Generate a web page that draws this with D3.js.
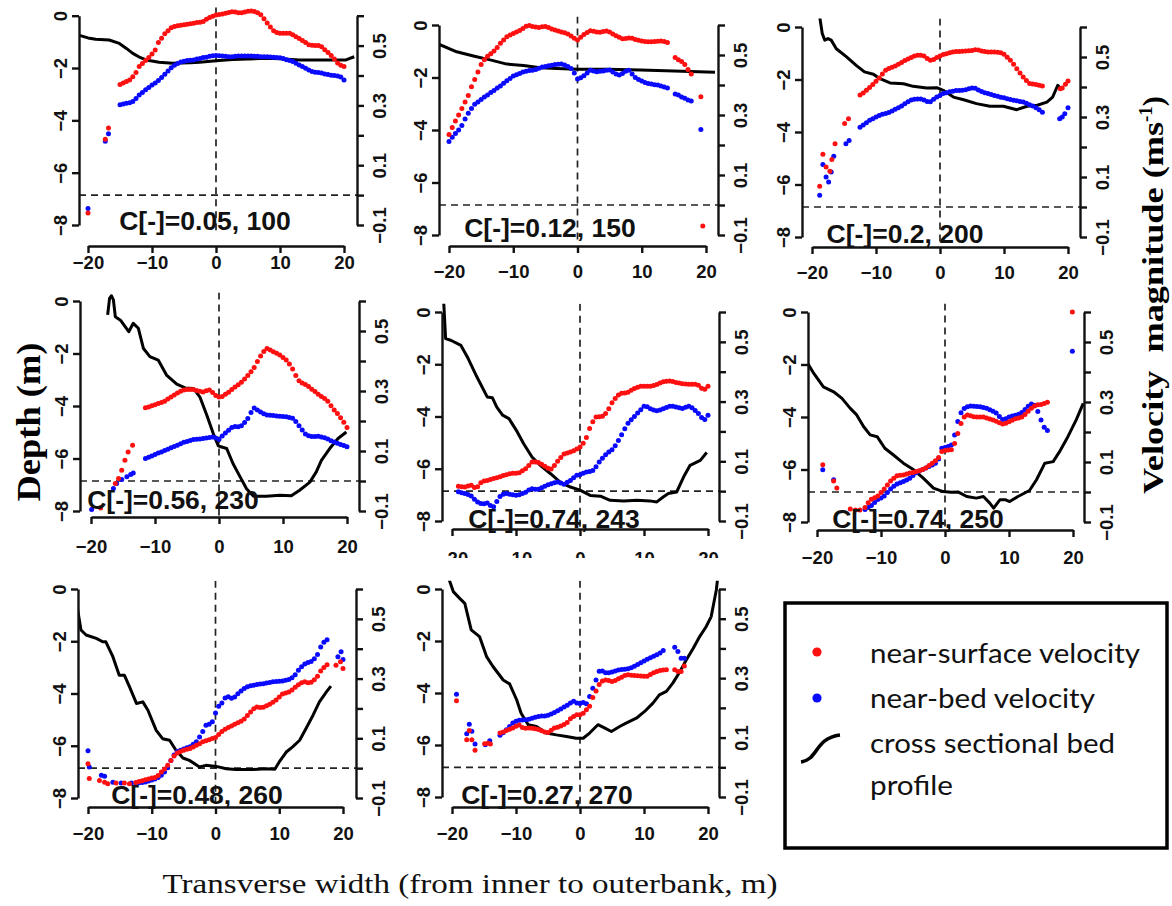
<!DOCTYPE html>
<html>
<head>
<meta charset="utf-8">
<script src="https://cdn.jsdelivr.net/npm/d3@7"></script>
<style>
  html, body { margin: 0; padding: 0; background: #fff; }
  svg { display: block; }
</style>
</head>
<body>
<svg id="chart" width="1172" height="906"></svg>
<script>
// dots are sampled every 0.5 m across the section; [startX, [values...]]
const STEP = 0.5;

const panelTags = ["C[-]=0.05, 100", "C[-]=0.12, 150", "C[-]=0.2, 200", "C[-]=0.56, 230",
                   "C[-]=0.74, 243", "C[-]=0.74, 250", "C[-]=0.48, 260", "C[-]=0.27, 270"];
const depthTicks = [0, -2, -4, -6, -8];
const velTicks = [-0.1, 0, 0.1, 0.2, 0.3, 0.4, 0.5, 0.6];
const velLabels = [-0.1, 0.1, 0.3, 0.5];
const widthTicks = [-20, -10, 0, 10, 20];
const legendLabels = ["near-surface velocity", "near-bed velocity", "cross sectional bed", "profile"];

// panel 1 : C=0.05, 100
const p1Surface = [[-20, [-0.06]], [-17.3, [0.187]], [-16.8, [0.224]],
  [-15, [0.37,0.375,0.38,0.385,0.396,0.41,0.43,0.44,0.45,0.46,
         0.472,0.485,0.51,0.525,0.54,0.55,0.56,0.564,0.566,0.568,
         0.57,0.571,0.573,0.575,0.577,0.578,0.581,0.588,0.594,0.598,
         0.602,0.604,0.606,0.608,0.611,0.613,0.612,0.61,0.61,0.612,
         0.615,0.616,0.614,0.61,0.603,0.59,0.576,0.562,0.55,0.544,
         0.541,0.541,0.541,0.541,0.536,0.53,0.524,0.517,0.51,0.503,
         0.501,0.5,0.5,0.496,0.486,0.477,0.467,0.455,0.442,0.434,0.43]]];
const p1Bed = [[-20, [-0.045]], [-17.3, [0.18]], [-16.8, [0.205]],
  [-15, [0.302,0.305,0.307,0.309,0.313,0.323,0.335,0.343,0.352,0.36,
         0.368,0.375,0.383,0.393,0.404,0.415,0.426,0.434,0.44,0.445,
         0.448,0.45,0.451,0.452,0.455,0.457,0.46,0.461,0.464,0.466,
         0.467,0.466,0.465,0.464,0.463,0.463,0.464,0.465,0.465,0.465,
         0.465,0.465,0.464,0.464,0.463,0.463,0.463,0.462,0.461,0.46,
         0.459,0.457,0.453,0.45,0.447,0.441,0.435,0.43,0.424,0.418,
         0.413,0.411,0.41,0.408,0.405,0.403,0.401,0.4,0.398,0.395,0.385]]];
const p1Profile = [[-21.5,-0.74],[-20,-0.85],[-18.8,-0.9],[-16.7,-0.93],[-15.1,-1.06],[-14,-1.25],[-13,-1.44],
  [-12,-1.58],[-10.9,-1.69],[-8.9,-1.78],[-6.8,-1.82],[-4,-1.8],[-2.6,-1.78],[0,-1.72],[2.6,-1.67],[7.8,-1.63],
  [10,-1.65],[13,-1.69],[18.2,-1.69],[20.3,-1.69],[21.6,-1.57]];

// panel 2 : C=0.12, 150
const p2Surface = [
  [-20, [0.235,0.258,0.28,0.3,0.322,0.343,0.365,0.394,0.418,0.443,
         0.468,0.484,0.496,0.504,0.513,0.525,0.539,0.55,0.561,0.567,
         0.572,0.577,0.582,0.588,0.596,0.598,0.595,0.593,0.592,0.594,
         0.595,0.592,0.587,0.583,0.58,0.577,0.574,0.57,0.563,0.556,
         0.55,0.559,0.568,0.575,0.581,0.579,0.577,0.576,0.578,0.58,
         0.577,0.57,0.564,0.559,0.554,0.555,0.557,0.556,0.552,0.549,
         0.547,0.545,0.544,0.544,0.545,0.546,0.547,0.545,0.542]],
  [15.2, [0.492,0.484,0.478,0.468,0.452,0.437]], [19.2, [0.361]], [19.5, [-0.07]]];
const p2Bed = [
  [-20, [0.212,0.226,0.238,0.25,0.265,0.287,0.306,0.322,0.336,0.343,
         0.352,0.36,0.367,0.375,0.382,0.39,0.397,0.406,0.414,0.422,
         0.43,0.434,0.438,0.443,0.446,0.448,0.449,0.452,0.456,0.46,
         0.462,0.464,0.466,0.468,0.469,0.47,0.467,0.462,0.455,0.44,
         0.42,0.424,0.431,0.44,0.449,0.447,0.444,0.446,0.447,0.449,
         0.45,0.443,0.437,0.433,0.438,0.446,0.449,0.437,0.425,0.418,
         0.413,0.408,0.405,0.403,0.401,0.4,0.397,0.393,0.39]],
  [15.2, [0.37,0.367,0.36,0.356,0.35,0.347]], [19.2, [0.252]]];
const p2Profile = [[-21.5,-0.74],[-18.8,-1.02],[-16.2,-1.18],[-13.6,-1.33],[-11,-1.49],[-8.4,-1.54],[-5.8,-1.63],
  [-3.2,-1.66],[0,-1.69],[4.6,-1.69],[9.8,-1.71],[15,-1.75],[21.4,-1.8]];

// panel 3 : C=0.2, 200
const p3Surface = [[-18.8, [0.069]], [-18.3, [0.176]], [-17.8, [0.133]], [-17.2, [0.119]], [-16.9, [0.158]],
  [-16.4, [0.211]], [-14.9, [0.278]], [-14.3, [0.294]],
  [-12.5, [0.373,0.38,0.389,0.398,0.408,0.419,0.43,0.443,0.456,0.462,
           0.466,0.47,0.476,0.482,0.488,0.493,0.498,0.503,0.506,0.506,
           0.503,0.495,0.489,0.492,0.498,0.503,0.508,0.511,0.514,0.517,
           0.518,0.518,0.519,0.52,0.521,0.522,0.524,0.523,0.52,0.518,
           0.517,0.517,0.517,0.516,0.514,0.509,0.499,0.489,0.476,0.461,
           0.447,0.433,0.422,0.412,0.41,0.408,0.406,0.403]],
  [18.8, [0.394]], [19.1, [0.397]], [19.6, [0.409]], [20, [0.42]]];
const p3Bed = [[-18.8, [0.039]], [-18.3, [0.142]], [-17.8, [0.1]], [-17.4, [0.083]], [-17, [0.117]],
  [-16.6, [0.169]], [-14.7, [0.211]], [-14.2, [0.222]],
  [-12.5, [0.266,0.273,0.281,0.289,0.294,0.3,0.305,0.309,0.312,0.315,
           0.32,0.326,0.331,0.337,0.344,0.351,0.357,0.359,0.36,0.36,
           0.357,0.352,0.351,0.359,0.367,0.372,0.378,0.381,0.384,0.386,
           0.388,0.388,0.389,0.391,0.394,0.397,0.396,0.39,0.385,0.381,
           0.378,0.375,0.372,0.369,0.366,0.364,0.361,0.358,0.356,0.354,
           0.352,0.35,0.346,0.341,0.337,0.331,0.324,0.316]],
  [18.7, [0.294]], [19.1, [0.3]], [19.5, [0.311]], [20, [0.331]]];
const p3Profile = [[-18.8,0.4],[-18.4,-0.25],[-18,-0.5],[-17.5,-0.44],[-17,-0.5],[-16.2,-0.83],[-14.6,-1.14],
  [-13.1,-1.46],[-11.8,-1.71],[-10.4,-1.8],[-9.4,-1.97],[-7.8,-2.13],[-5.7,-2.16],[-4.2,-2.26],[-2.1,-2.32],
  [-0.5,-2.31],[0.5,-2.41],[2.1,-2.67],[3.7,-2.77],[5.7,-2.92],[7.8,-3.02],[9.9,-3.02],[12,-3.15],[13.6,-3.02],
  [15.2,-2.98],[16.7,-2.86],[17.6,-2.67],[18.4,-2.22],[18.8,-2.35]];

// panel 4 : C=0.56, 230
const p4Surface = [[-18.5, [-0.09]], [-16.2, [-0.008]], [-15.7, [0.008]], [-15.2, [0.036]], [-14.7, [0.069]],
  [-14.2, [0.097]], [-13.5, [0.119]],
  [-11.5, [0.244,0.247,0.251,0.254,0.258,0.262,0.266,0.273,0.28,0.287,
           0.293,0.299,0.303,0.305,0.305,0.305,0.302,0.299,0.297,0.301,
           0.303,0.295,0.285,0.28,0.282,0.289,0.296,0.305,0.313,0.321,
           0.329,0.34,0.352,0.364,0.378,0.398,0.417,0.432,0.442,0.437,
           0.431,0.426,0.42,0.412,0.403,0.39,0.373,0.352,0.334,0.327,
           0.322,0.315,0.306,0.298,0.289,0.282,0.275,0.266,0.251,0.237,
           0.225,0.211,0.196,0.178]]];
const p4Bed = [[-19.9, [-0.095]], [-16.5, [-0.025]], [-16, [-0.008]], [-15.2, [0.005]], [-14.4, [0.014]],
  [-13.8, [0.022]], [-13.4, [0.027]],
  [-11.5, [0.075,0.079,0.083,0.088,0.093,0.097,0.102,0.106,0.111,0.115,
           0.119,0.124,0.129,0.132,0.135,0.138,0.139,0.14,0.142,0.143,
           0.145,0.147,0.143,0.138,0.15,0.16,0.169,0.178,0.182,0.181,
           0.184,0.195,0.208,0.228,0.243,0.237,0.23,0.224,0.22,0.219,
           0.218,0.217,0.216,0.215,0.214,0.212,0.209,0.198,0.184,0.17,
           0.157,0.151,0.148,0.148,0.149,0.147,0.144,0.14,0.134,0.13,
           0.126,0.122,0.118,0.114]]];
const p4Profile = [[-17.4,-0.53],[-17.1,0.1],[-16.8,0.2],[-16.5,0.04],[-16.2,-0.6],[-15.4,-0.73],[-14.1,-1.17],
  [-13.4,-0.85],[-12.6,-1.04],[-11.8,-1.81],[-10.8,-2.12],[-9.5,-2.25],[-8.2,-2.82],[-6.6,-3.17],[-5.3,-3.31],
  [-4,-3.33],[-3,-3.65],[-1.9,-4.35],[-0.9,-5.05],[-0.1,-5.52],[0.4,-5.56],[1.2,-5.62],[2.2,-6.2],[3.3,-6.7],
  [4.3,-7.15],[5.4,-7.44],[7.4,-7.44],[9.5,-7.4],[11.3,-7.42],[12.6,-7.21],[14.2,-6.9],[15.2,-6.51],[16,-6.07],
  [17.3,-5.62],[18.6,-5.24],[19.9,-4.99]];

// panel 5 : C=0.74, 243
const p5Surface = [
  [-19, [0.016,0.015,0.014,0.017,0.02,0.012,0.015,0.028,0.034,0.036,
         0.039,0.042,0.045,0.048,0.052,0.055,0.058,0.06,0.06,0.062,
         0.068,0.075,0.086,0.098,0.098,0.096,0.09,0.083,0.077,0.074,
         0.086,0.1,0.113,0.124,0.128,0.131,0.135,0.141,0.148,0.16,
         0.18,0.21,0.232,0.248,0.249,0.251,0.26,0.276,0.296,0.31,
         0.322,0.328,0.329,0.331,0.338,0.344,0.348,0.351,0.351,0.351,
         0.351,0.354,0.357,0.362,0.366,0.368,0.369,0.367,0.364,0.362,
         0.36,0.359,0.358,0.358,0.358,0.355,0.345,0.341,0.351]]];
const p5Bed = [
  [-19, [-0.002,-0.005,-0.008,-0.011,-0.016,-0.027,-0.036,-0.041,-0.042,-0.04,
         -0.048,-0.052,-0.035,-0.018,-0.01,-0.008,-0.01,-0.012,-0.014,-0.012,
         -0.008,-0.004,0.004,0.008,0.006,0.006,0.011,0.016,0.021,0.025,
         0.028,0.031,0.027,0.023,0.03,0.036,0.045,0.053,0.055,0.06,
         0.064,0.066,0.069,0.082,0.098,0.11,0.122,0.131,0.139,0.152,
         0.17,0.189,0.209,0.227,0.239,0.25,0.262,0.273,0.284,0.283,
         0.276,0.272,0.269,0.272,0.276,0.28,0.284,0.284,0.282,0.279,
         0.277,0.281,0.284,0.279,0.27,0.26,0.247,0.24,0.254]]];
const p5Profile = [[-21.3,0.4],[-21,-1.02],[-20.2,-1.08],[-18.6,-1.28],[-17.6,-1.72],[-16.1,-2.49],[-14.5,-3.25],
  [-13.7,-3.28],[-13,-3.64],[-12.1,-3.95],[-11.1,-4.08],[-9.8,-4.59],[-8.8,-5.04],[-7.5,-5.55],[-6.2,-5.87],
  [-4.6,-6.19],[-3.1,-6.51],[-1.5,-6.7],[0,-6.82],[1.6,-7.02],[3.2,-7.05],[4.7,-7.21],[6.8,-7.23],[8.9,-7.21],
  [10.9,-7.23],[12,-7.27],[13,-7.08],[13.8,-6.95],[15.1,-6.89],[16.2,-6.31],[17.2,-5.87],[18.8,-5.68],[19.8,-5.38]];

// panel 6 : C=0.74, 250
const p6Surface = [[-19.1, [0.091]], [-17.4, [0.037]], [-16.9, [0.013]], [-14.8, [-0.057]], [-14, [-0.06]],
  [-13.3, [-0.06]],
  [-12.5, [-0.052,-0.036,-0.024,-0.019,-0.013,-0.002,0.01,0.023,0.037,0.046,
           0.054,0.056,0.057,0.06,0.063,0.065,0.068,0.071,0.075,0.08,
           0.088,0.096,0.104,0.115,0.135,0.138,0.14,0.141,0.162,0.195,
           0.228,0.25,0.257,0.254,0.251,0.25,0.25,0.25,0.247,0.243,
           0.24,0.236,0.231,0.227,0.229,0.234,0.239,0.244,0.247,0.25,
           0.258,0.269,0.279,0.287,0.291,0.292,0.295,0.299]],
  [19.9, [0.6]]];
const p6Bed = [[-19.1, [0.074]], [-17.4, [0.041]],
  [-12.5, [-0.058,-0.052,-0.045,-0.035,-0.025,-0.02,-0.013,-0.002,0.01,0.019,
           0.027,0.031,0.035,0.04,0.046,0.055,0.064,0.07,0.075,0.08,
           0.085,0.09,0.096,0.11,0.146,0.148,0.152,0.157,0.19,0.235,
           0.264,0.278,0.284,0.287,0.286,0.285,0.284,0.282,0.279,0.274,
           0.269,0.263,0.252,0.242,0.244,0.25,0.253,0.256,0.259,0.265,
           0.275,0.286,0.293,0.289,0.268,0.24,0.216,0.205]],
  [19.9, [0.469]]];
const p6Profile = [[-21.6,-1.9],[-20.5,-2.34],[-19,-2.85],[-17.4,-3.04],[-16.1,-3.29],[-14.8,-3.67],[-13.8,-3.92],
  [-12.7,-4.37],[-11.7,-4.68],[-10.6,-4.75],[-9.4,-5.19],[-8.1,-5.44],[-6.5,-5.76],[-4.9,-6.01],[-3.4,-6.33],
  [-1.8,-6.71],[-0.3,-6.84],[1,-6.87],[2.1,-6.86],[3.4,-7.03],[4.9,-7.09],[6,-7.03],[7,-7.28],[7.6,-7.47],
  [8.6,-7.15],[9.4,-7.15],[10.1,-7.22],[11.4,-7.03],[13.2,-6.8],[14.3,-6.39],[15.6,-5.76],[16.9,-5.7],
  [17.9,-5.32],[19.2,-4.75],[20.5,-4.11],[21.6,-3.48]];

// panel 7 : C=0.48, 260
const p7Surface = [[-20, [0.015]], [-19.8, [-0.035]], [-18.2, [-0.041]], [-17.4, [-0.047]], [-16.9, [-0.052]],
  [-15.6, [-0.05]], [-14.3, [-0.05]], [-13.5, [-0.052]],
  [-12.5, [-0.048,-0.045,-0.042,-0.039,-0.036,-0.033,-0.031,-0.025,-0.013,-0.003,
           0.01,0.026,0.041,0.051,0.056,0.06,0.063,0.066,0.071,0.077,
           0.082,0.088,0.092,0.095,0.099,0.103,0.113,0.123,0.13,0.136,
           0.141,0.147,0.152,0.157,0.165,0.176,0.188,0.199,0.205,0.203,
           0.204,0.209,0.214,0.221,0.228,0.238,0.248,0.252,0.255,0.262,
           0.271,0.279,0.286,0.289,0.286,0.288,0.296,0.308,0.325,0.337,
           0.346]],
  [18.9, [0.345]], [19.6, [0.356]], [20, [0.334]]];
const p7Bed = [[-20, [0.058]], [-19.8, [0.004]], [-17.9, [-0.024]], [-17.4, [-0.027]], [-16.1, [-0.047]],
  [-14.8, [-0.05]], [-13.2, [-0.05]],
  [-12.5, [-0.05,-0.049,-0.048,-0.046,-0.043,-0.04,-0.036,-0.031,-0.024,-0.013,
           0.001,0.026,0.044,0.056,0.06,0.064,0.068,0.072,0.08,0.088,
           0.104,0.123,0.144,0.147,0.155,0.185,0.207,0.218,0.235,0.239,
           0.234,0.238,0.249,0.258,0.267,0.273,0.276,0.278,0.28,0.282,
           0.283,0.285,0.287,0.289,0.29,0.291,0.292,0.294,0.297,0.303,
           0.313,0.328,0.34,0.349,0.354,0.357,0.366,0.381,0.406,0.422,
           0.43]],
  [19.2, [0.373]], [19.7, [0.39]], [20, [0.364]]];
const p7Profile = [[-21.7,-0.68],[-21.1,-1.57],[-20.3,-1.76],[-18.7,-1.89],[-17.7,-2.02],[-17.2,-2.02],[-16.1,-2.59],
  [-15.1,-3.3],[-14.3,-3.3],[-13.5,-3.74],[-12.4,-4.38],[-11.4,-4.32],[-10.6,-4.64],[-9.3,-5.41],[-8.3,-5.73],
  [-7.2,-5.79],[-6.2,-6.17],[-5.1,-6.47],[-4.1,-6.56],[-2.5,-6.81],[-1.5,-6.75],[0.1,-6.79],[1.7,-6.88],
  [3.2,-6.91],[5.9,-6.91],[7.9,-6.88],[9.3,-6.9],[10,-6.62],[11.1,-6.24],[12.1,-6.04],[13.2,-5.79],[14.2,-5.34],
  [15.3,-4.83],[16.3,-4.32],[17.4,-3.94],[18.1,-3.72]];

// panel 8 : C=0.27, 270
const p8Surface = [[-19.3, [0.224]], [-17.7, [0.093]], [-17.3, [0.124]], [-16.9, [0.093]], [-16.4, [0.057]],
  [-14.9, [0.079]], [-14.4, [0.081]], [-14, [0.078]],
  [-12.5, [0.115,0.119,0.124,0.128,0.132,0.138,0.142,0.134,0.131,0.132,
           0.131,0.13,0.127,0.123,0.119,0.117,0.125,0.132,0.135,0.139,
           0.144,0.151,0.163,0.171,0.177,0.177,0.182,0.194,0.205,0.235,
           0.257,0.279,0.29,0.294,0.292,0.289,0.292,0.298,0.303,0.309,
           0.311,0.31,0.309,0.308,0.307,0.306,0.306,0.312,0.318,0.322,
           0.326,0.327,0.328]],
  [14.8, [0.328]], [15.3, [0.322]], [15.8, [0.322]], [16.3, [0.341]]];
const p8Bed = [[-19.3, [0.246]], [-17.7, [0.113]], [-17.3, [0.145]], [-16.9, [0.121]], [-16.4, [0.078]],
  [-14.8, [0.076]], [-14.1, [0.089]],
  [-12.5, [0.108,0.116,0.126,0.137,0.149,0.155,0.158,0.159,0.16,0.162,
           0.165,0.168,0.171,0.173,0.173,0.175,0.179,0.184,0.19,0.196,
           0.203,0.209,0.216,0.222,0.216,0.215,0.218,0.214,0.238,0.266,
           0.294,0.323,0.324,0.318,0.318,0.321,0.324,0.327,0.329,0.33,
           0.332,0.335,0.34,0.346,0.352,0.358,0.364,0.369,0.374,0.379,
           0.385,0.393]],
  [14.8, [0.404]], [15.3, [0.39]], [15.8, [0.367]], [16.3, [0.367]]];
const p8Profile = [[-20.5,0.4],[-19.8,-0.1],[-18.8,-0.36],[-18,-0.55],[-17,-1.57],[-15.7,-1.83],[-14.6,-2.6],
  [-13.6,-2.98],[-12,-3.5],[-11,-3.65],[-9.9,-4.26],[-9.2,-4.78],[-8.1,-5.22],[-6.8,-5.29],[-5.3,-5.54],
  [-3.7,-5.61],[-2.1,-5.67],[-0.6,-5.74],[0.5,-5.74],[1.5,-5.54],[2.8,-5.22],[3.9,-5.35],[4.9,-5.48],
  [6.2,-5.29],[7.2,-5.16],[8.8,-4.97],[10.1,-4.71],[11.4,-4.39],[12.4,-4.07],[13.5,-3.94],[14.5,-3.62],
  [15.6,-3.18],[16.6,-2.73],[17.7,-2.28],[18.7,-1.83],[19.7,-1.45],[20.5,-1.06],[21.3,-0.04],[21.5,0.4]];

// where each small plot sits on the page (pixels)
const frames = [
  { left: 79,  right: 357,  xa: 88,  xb: 344,  top: 15.7, bottom: 225, axisY: 246, labelY: 262, tagX: 205, tagY: 220 },
  { left: 439, right: 718,  xa: 449, xb: 706,  top: 25,   bottom: 235, axisY: 246, labelY: 271, tagX: 550, tagY: 227 },
  { left: 802, right: 1080, xa: 812, xb: 1068, top: 27,   bottom: 237, axisY: 247, labelY: 272, tagX: 905, tagY: 233 },
  { left: 80,  right: 359,  xa: 91,  xb: 347,  top: 301,  bottom: 511, axisY: 517, labelY: 546, tagX: 173, tagY: 499 },
  { left: 442, right: 719,  xa: 452, xb: 708,  top: 312,  bottom: 521, axisY: 529, labelY: 558, tagX: 554, tagY: 518, cut: 558 },
  { left: 808, right: 1084, xa: 817, xb: 1073, top: 312,  bottom: 522, axisY: 530, labelY: 557, tagX: 918, tagY: 518 },
  { left: 78,  right: 356,  xa: 88,  xb: 343,  top: 589,  bottom: 798, axisY: 807, labelY: 833, tagX: 197, tagY: 794 },
  { left: 442, right: 719,  xa: 452, xb: 708,  top: 589,  bottom: 797, axisY: 807, labelY: 833, tagX: 547, tagY: 794 }
];

const panels = [
  { surface: p1Surface, bed: p1Bed, profile: p1Profile },
  { surface: p2Surface, bed: p2Bed, profile: p2Profile },
  { surface: p3Surface, bed: p3Bed, profile: p3Profile },
  { surface: p4Surface, bed: p4Bed, profile: p4Profile },
  { surface: p5Surface, bed: p5Bed, profile: p5Profile },
  { surface: p6Surface, bed: p6Bed, profile: p6Profile },
  { surface: p7Surface, bed: p7Bed, profile: p7Profile },
  { surface: p8Surface, bed: p8Bed, profile: p8Profile }
];

const toPoints = segs => segs.flatMap(([x0, vals]) => vals.map((v, i) => ({ x: x0 + i * STEP, v })));

const svg = d3.select('#chart');
svg.append('rect').attr('width', 1172).attr('height', 906).attr('fill', '#fff');
const defs = svg.append('defs');

const tickFont = '"Liberation Sans", Arial, sans-serif';
const ink = '#111';
const dotR = 2.5;

const styleAxis = (g) => {
  g.select('.domain').attr('stroke', ink).attr('stroke-width', 2.4);
  g.selectAll('.tick line').attr('stroke', ink).attr('stroke-width', 2.4);
  g.selectAll('.tick text')
    .attr('fill', ink)
    .style('font-family', tickFont)
    .style('font-weight', 'bold')
    .style('font-size', '18.5px');
};

panels.forEach((p, i) => {
  const f = frames[i];
  const pad = (f.bottom - f.top) * 0.04;

  const x = d3.scaleLinear().domain([-20, 20]).range([f.xa, f.xb]);
  const yDepth = d3.scaleLinear().domain([0, -8]).range([f.top, f.bottom]);
  const yVel = d3.scaleLinear().domain([0.6, -0.1]).range([f.top, f.bottom]);

  defs.append('clipPath').attr('id', `clip${i}`)
    .append('rect')
    .attr('x', f.left).attr('y', f.top - pad)
    .attr('width', f.right - f.left).attr('height', f.bottom - f.top + 2 * pad);

  const g = svg.append('g');
  const plot = g.append('g').attr('clip-path', `url(#clip${i})`);

  // reference lines: zero width and zero velocity
  plot.append('line')
    .attr('x1', x(0)).attr('x2', x(0))
    .attr('y1', f.top - pad).attr('y2', f.bottom + pad)
    .attr('stroke', '#222').attr('stroke-width', 1.7).attr('stroke-dasharray', '7,5');
  plot.append('line')
    .attr('x1', f.left).attr('x2', f.right)
    .attr('y1', yVel(0)).attr('y2', yVel(0))
    .attr('stroke', '#222').attr('stroke-width', 1.7).attr('stroke-dasharray', '7,5');

  // bed profile
  plot.append('path')
    .datum(p.profile)
    .attr('fill', 'none')
    .attr('stroke', '#000')
    .attr('stroke-width', 3)
    .attr('stroke-linejoin', 'round')
    .attr('d', d3.line().x(d => x(d[0])).y(d => yDepth(d[1])));

  plot.selectAll('.bed')
    .data(toPoints(p.bed))
    .enter()
    .append('circle')
    .attr('class', 'bed')
    .attr('cx', d => x(d.x)).attr('cy', d => yVel(d.v))
    .attr('r', dotR).attr('fill', '#0a0aff');

  plot.selectAll('.surface')
    .data(toPoints(p.surface))
    .enter()
    .append('circle')
    .attr('class', 'surface')
    .attr('cx', d => x(d.x)).attr('cy', d => yVel(d.v))
    .attr('r', dotR).attr('fill', '#ff1010');

  // left depth axis
  const ax1 = g.append('g').attr('transform', `translate(${f.left},0)`)
    .call(d3.axisLeft(yDepth).tickValues(depthTicks).tickSize(7).tickSizeOuter(0).tickFormat(d3.format('d')));
  styleAxis(ax1);
  ax1.selectAll('.tick text')
    .attr('transform', 'rotate(-90)')
    .attr('x', 0).attr('y', -19).attr('dy', '0.36em')
    .attr('text-anchor', 'middle');

  // right velocity axis
  const ax2 = g.append('g').attr('transform', `translate(${f.right},0)`)
    .call(d3.axisRight(yVel).tickValues(velTicks).tickSize(7).tickSizeOuter(0)
      .tickFormat(d => velLabels.some(v => Math.abs(v - d) < 1e-9) ? d3.format('.1f')(d) : ''));
  styleAxis(ax2);
  ax2.selectAll('.tick text')
    .attr('transform', 'rotate(-90)')
    .attr('x', 0).attr('y', 22).attr('dy', '0.36em')
    .attr('text-anchor', 'middle');

  // bottom width axis
  const ax3 = g.append('g').attr('transform', `translate(0,${f.axisY})`)
    .call(d3.axisBottom(x).tickValues(widthTicks).tickSize(7).tickSizeOuter(0));
  styleAxis(ax3);
  ax3.selectAll('.tick text')
    .attr('y', f.labelY - f.axisY).attr('dy', '0.36em');
  if (f.cut) {
    // clip box is in the axis group's own (translated) coordinates
    defs.append('clipPath').attr('id', `cut${i}`)
      .append('rect').attr('x', f.left - 40).attr('y', -20)
      .attr('width', f.right - f.left + 80).attr('height', f.cut - f.axisY + 20);
    ax3.attr('clip-path', `url(#cut${i})`);
  }

  g.append('text')
    .attr('x', f.tagX).attr('y', f.tagY).attr('dy', '0.36em')
    .attr('text-anchor', 'middle')
    .style('font-family', tickFont)
    .style('font-weight', 'bold')
    .style('font-size', '26.5px')
    .attr('fill', ink)
    .text(panelTags[i]);
});

// axis titles
const serif = '"Liberation Serif", "Times New Roman", serif';
svg.append('text')
  .attr('transform', 'translate(28,422) rotate(-90)')
  .attr('text-anchor', 'middle').attr('dy', '0.35em')
  .attr('textLength', 159).attr('lengthAdjust', 'spacingAndGlyphs')
  .style('font-family', serif).style('font-weight', 'bold').style('font-size', '33px')
  .text('Depth (m)');

const vTitle = svg.append('text')
  .attr('transform', 'translate(1163,494) rotate(-90)')
  .attr('text-anchor', 'start')
  .style('font-family', serif).style('font-weight', 'bold').style('font-size', '30px')
  .style('white-space', 'pre');
vTitle.append('tspan')
  .attr('textLength', 372).attr('lengthAdjust', 'spacingAndGlyphs')
  .text('Velocity  magnitude (ms');
vTitle.append('tspan').attr('dy', -11).style('font-size', '19px').text('-1');
vTitle.append('tspan').attr('dy', 11).text(')');

svg.append('text')
  .attr('x', 470).attr('y', 893)
  .attr('text-anchor', 'middle')
  .attr('textLength', 615).attr('lengthAdjust', 'spacingAndGlyphs')
  .style('font-family', serif).style('font-size', '28px')
  .attr('fill', ink)
  .text('Transverse width (from inner to outerbank, m)');

// legend
const legend = svg.append('g');
legend.append('rect')
  .attr('x', 785).attr('y', 603).attr('width', 382).attr('height', 245)
  .attr('fill', '#fff').attr('stroke', '#000').attr('stroke-width', 3.5);
legend.append('circle').attr('cx', 817).attr('cy', 652).attr('r', 4.6).attr('fill', '#ff1010');
legend.append('circle').attr('cx', 817).attr('cy', 698).attr('r', 4.6).attr('fill', '#0a0aff');
legend.append('path')
  .attr('d', 'M801,762 C818,760 815,738 840,735')
  .attr('fill', 'none').attr('stroke', '#000').attr('stroke-width', 3.5);

const legendY = [663, 708, 753, 795];
const legendW = [270, 225, 245, 83];
legend.selectAll('.lab')
  .data(legendLabels)
  .enter()
  .append('text')
  .attr('class', 'lab')
  .attr('x', 870).attr('y', (d, i) => legendY[i])
  .attr('textLength', (d, i) => legendW[i]).attr('lengthAdjust', 'spacingAndGlyphs')
  .style('font-family', 'Lato, "Open Sans", sans-serif')
  .style('font-size', '27px')
  .attr('fill', '#111')
  .text(d => d);
</script>
</body>
</html>
